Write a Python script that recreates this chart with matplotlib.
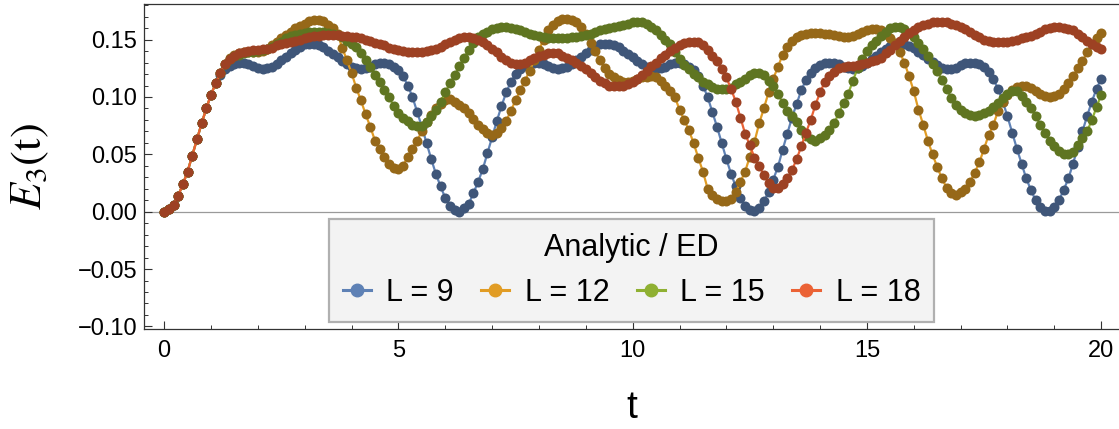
import numpy as np
import matplotlib
matplotlib.use("Agg")
import matplotlib.pyplot as plt
from matplotlib.lines import Line2D

plt.rcParams['font.family'] = ['Liberation Sans', 'DejaVu Sans']
plt.rcParams['mathtext.fontset'] = 'stix'

# time grid of the data points (step 0.1)
t = np.linspace(0, 20, 201)

labels = ["L = 9", "L = 12", "L = 15", "L = 18"]
legend_title = "Analytic / ED"

e_L9 = [
    0.000, 0.002, 0.006, 0.014, 0.024, 0.035, 0.049, 0.063, 0.077, 0.090,
    0.102, 0.112, 0.119, 0.124, 0.127, 0.129, 0.130, 0.130, 0.129, 0.127,
    0.125, 0.1245, 0.125, 0.126, 0.129, 0.132, 0.135, 0.138, 0.141, 0.144,
    0.146, 0.1465, 0.1465, 0.1455, 0.1435, 0.1405, 0.1375, 0.1345, 0.1315, 0.1285,
    0.126, 0.125, 0.1245, 0.125, 0.1265, 0.129, 0.130, 0.130, 0.129, 0.1265,
    0.1235, 0.118, 0.110, 0.100, 0.087, 0.074, 0.060, 0.046, 0.033, 0.022,
    0.012, 0.005, 0.0015, 0.000, 0.003, 0.007, 0.016, 0.026, 0.037, 0.051,
    0.065, 0.079, 0.092, 0.104, 0.113, 0.120, 0.124, 0.127, 0.129, 0.130,
    0.130, 0.129, 0.127, 0.125, 0.1245, 0.125, 0.126, 0.129, 0.132, 0.135,
    0.138, 0.141, 0.144, 0.146, 0.1465, 0.1465, 0.1455, 0.1435, 0.1405, 0.1375,
    0.1345, 0.1315, 0.1285, 0.126, 0.125, 0.1245, 0.125, 0.1265, 0.129, 0.130,
    0.130, 0.129, 0.1265, 0.1235, 0.118, 0.110, 0.100, 0.087, 0.074, 0.060,
    0.046, 0.033, 0.022, 0.012, 0.005, 0.0015, 0.001, 0.003, 0.009, 0.017,
    0.028, 0.039, 0.054, 0.068, 0.082, 0.094, 0.106, 0.115, 0.121, 0.125,
    0.128, 0.1295, 0.130, 0.1298, 0.1285, 0.1265, 0.125, 0.1245, 0.1253, 0.127,
    0.130, 0.133, 0.136, 0.139, 0.142, 0.1448, 0.1462, 0.1466, 0.1462, 0.1448,
    0.1425, 0.1395, 0.1365, 0.1335, 0.1305, 0.1278, 0.1256, 0.1247, 0.1247, 0.1256,
    0.1275, 0.1295, 0.130, 0.1298, 0.1285, 0.1258, 0.1215, 0.1155, 0.107, 0.096,
    0.083, 0.069, 0.055, 0.042, 0.029, 0.019, 0.010, 0.004, 0.001, 0.001,
    0.004, 0.010, 0.019, 0.029, 0.042, 0.056, 0.070, 0.0835, 0.096, 0.107,
    0.116,
]

e_L12 = [
    0.000, 0.002, 0.006, 0.014, 0.024, 0.035, 0.049, 0.063, 0.077, 0.090,
    0.102, 0.112, 0.121, 0.129, 0.134, 0.137, 0.138, 0.139, 0.139, 0.139,
    0.139, 0.140, 0.142, 0.145, 0.148, 0.151, 0.154, 0.157, 0.160, 0.162,
    0.164, 0.166, 0.167, 0.167, 0.166, 0.163, 0.160, 0.155, 0.143, 0.132,
    0.121, 0.108, 0.097, 0.085, 0.074, 0.062, 0.055, 0.048, 0.042, 0.038,
    0.037, 0.040, 0.048, 0.055, 0.062, 0.070, 0.078, 0.084, 0.090, 0.094,
    0.097, 0.098, 0.096, 0.093, 0.090, 0.086, 0.081, 0.076, 0.072, 0.069,
    0.067, 0.069, 0.073, 0.079, 0.088, 0.097, 0.106, 0.114, 0.123, 0.132,
    0.141, 0.150, 0.158, 0.163, 0.166, 0.168, 0.168, 0.167, 0.165, 0.161,
    0.155, 0.147, 0.140, 0.132, 0.125, 0.120, 0.117, 0.115, 0.113, 0.113,
    0.114, 0.116, 0.117, 0.117, 0.118, 0.117, 0.114, 0.110, 0.105, 0.100,
    0.089, 0.080, 0.071, 0.060, 0.047, 0.035, 0.020, 0.015, 0.011, 0.009,
    0.009, 0.011, 0.017, 0.026, 0.035, 0.048, 0.061, 0.077, 0.090, 0.104,
    0.116, 0.126, 0.137, 0.144, 0.149, 0.152, 0.154, 0.155, 0.156, 0.156,
    0.156, 0.155, 0.155, 0.154, 0.153, 0.152, 0.152, 0.153, 0.155, 0.157,
    0.158, 0.159, 0.159, 0.158, 0.155, 0.151, 0.147, 0.139, 0.130, 0.118,
    0.105, 0.089, 0.076, 0.062, 0.050, 0.039, 0.029, 0.021, 0.016, 0.015,
    0.017, 0.020, 0.026, 0.034, 0.043, 0.055, 0.067, 0.076, 0.088, 0.096,
    0.102, 0.106, 0.109, 0.110, 0.110, 0.108, 0.105, 0.103, 0.101, 0.100,
    0.101, 0.103, 0.107, 0.112, 0.118, 0.125, 0.131, 0.139, 0.146, 0.151,
    0.156,
]

e_L15 = [
    0.000, 0.002, 0.006, 0.014, 0.024, 0.035, 0.049, 0.063, 0.077, 0.090,
    0.102, 0.112, 0.121, 0.129, 0.133, 0.136, 0.137, 0.138, 0.139, 0.139,
    0.140, 0.141, 0.142, 0.144, 0.146, 0.148, 0.151, 0.153, 0.154, 0.155,
    0.156, 0.157, 0.157, 0.157, 0.157, 0.156, 0.155, 0.154, 0.152, 0.149,
    0.146, 0.1435, 0.138, 0.132, 0.126, 0.119, 0.113, 0.106, 0.100, 0.092,
    0.086, 0.082, 0.079, 0.076, 0.075, 0.075, 0.078, 0.083, 0.089, 0.096,
    0.104, 0.112, 0.119, 0.127, 0.134, 0.141, 0.147, 0.152, 0.155, 0.157,
    0.159, 0.160, 0.161, 0.161, 0.160, 0.159, 0.158, 0.157, 0.155, 0.154,
    0.153, 0.152, 0.151, 0.151, 0.151, 0.151, 0.151, 0.152, 0.152, 0.153,
    0.154, 0.155, 0.1565, 0.158, 0.159, 0.160, 0.161, 0.162, 0.163, 0.164,
    0.165, 0.1655, 0.165, 0.164, 0.161, 0.158, 0.154, 0.150, 0.146, 0.139,
    0.133, 0.128, 0.124, 0.120, 0.117, 0.113, 0.111, 0.109, 0.107, 0.107,
    0.107, 0.108, 0.111, 0.113, 0.116, 0.119, 0.121, 0.121, 0.119, 0.114,
    0.110, 0.103, 0.095, 0.088, 0.0835, 0.078, 0.071, 0.066, 0.063, 0.062,
    0.064, 0.067, 0.071, 0.077, 0.086, 0.095, 0.103, 0.114, 0.125, 0.133,
    0.140, 0.145, 0.149, 0.153, 0.157, 0.160, 0.161, 0.161, 0.159, 0.156,
    0.152, 0.147, 0.142, 0.136, 0.129, 0.123, 0.115, 0.107, 0.099, 0.093,
    0.089, 0.086, 0.084, 0.0835, 0.084, 0.086, 0.088, 0.091, 0.095, 0.099,
    0.103, 0.105, 0.105, 0.101, 0.096, 0.090, 0.083, 0.076, 0.069, 0.062,
    0.057, 0.053, 0.050, 0.050, 0.052, 0.058, 0.064, 0.070, 0.080, 0.091,
    0.102,
]

e_L18 = [
    0.000, 0.002, 0.006, 0.014, 0.024, 0.035, 0.049, 0.063, 0.077, 0.090,
    0.102, 0.112, 0.121, 0.129, 0.133, 0.136, 0.138, 0.139, 0.140, 0.141,
    0.141, 0.142, 0.142, 0.143, 0.145, 0.146, 0.147, 0.148, 0.149, 0.150,
    0.151, 0.152, 0.153, 0.153, 0.154, 0.154, 0.154, 0.154, 0.153, 0.153,
    0.152, 0.152, 0.151, 0.150, 0.149, 0.147, 0.146, 0.145, 0.143, 0.142,
    0.141, 0.140, 0.139, 0.139, 0.139, 0.139, 0.140, 0.141, 0.142, 0.144,
    0.146, 0.148, 0.150, 0.151, 0.152, 0.152, 0.151, 0.150, 0.148, 0.145,
    0.142, 0.139, 0.135, 0.132, 0.130, 0.129, 0.129, 0.130, 0.132, 0.134,
    0.136, 0.137, 0.138, 0.138, 0.138, 0.136, 0.134, 0.132, 0.130, 0.127,
    0.124, 0.121, 0.117, 0.114, 0.112, 0.110, 0.110, 0.110, 0.110, 0.111,
    0.113, 0.116, 0.119, 0.123, 0.127, 0.130, 0.134, 0.137, 0.140, 0.143,
    0.145, 0.147, 0.148, 0.148, 0.148, 0.145, 0.141, 0.136, 0.131, 0.124,
    0.117, 0.107, 0.096, 0.082, 0.068, 0.058, 0.047, 0.040, 0.032, 0.025,
    0.021, 0.0205, 0.024, 0.029, 0.036, 0.046, 0.057, 0.069, 0.080, 0.093,
    0.104, 0.113, 0.118, 0.122, 0.125, 0.126, 0.127, 0.127, 0.128, 0.129,
    0.130, 0.131, 0.132, 0.134, 0.138, 0.141, 0.145, 0.149, 0.152, 0.156,
    0.158, 0.161, 0.163, 0.164, 0.165, 0.1655, 0.1655, 0.165, 0.164, 0.163,
    0.161, 0.159, 0.157, 0.154, 0.152, 0.150, 0.149, 0.148, 0.148, 0.148,
    0.148, 0.149, 0.150, 0.151, 0.152, 0.153, 0.155, 0.157, 0.159, 0.160,
    0.161, 0.161, 0.160, 0.159, 0.158, 0.155, 0.152, 0.149, 0.146, 0.144,
    0.142,
]

series = [e_L9, e_L12, e_L15, e_L18]
line_colors = ['#5E81B5', '#E19C24', '#8FB032', '#EB6235']
dot_colors = ['#3F5679', '#966818', '#5F7521', '#9D4123']

fig = plt.figure(figsize=(11.19, 4.29), dpi=100)
ax = fig.add_axes([144 / 1119, 1 - 329.3 / 429, 1 - 144 / 1119, 325 / 429])

ax.axhline(0, color='#9a9a9a', lw=0.9, zorder=1)

for vals, lc, dc in zip(series, line_colors, dot_colors):
    ax.plot(t, vals, '-', color=lc, lw=1.6, marker='o', ms=7.2,
            mfc=dc, mec=dc, mew=0, zorder=2)

ax.set_xlim(-0.43, 20.38)
ax.set_ylim(-0.1025, 0.1808)
ax.set_xticks([0, 5, 10, 15, 20])
ax.set_xticks(np.arange(0, 21, 1), minor=True)
ax.set_yticks([-0.10, -0.05, 0.00, 0.05, 0.10, 0.15])
ax.set_yticks(np.arange(-0.10, 0.181, 0.01), minor=True)
ax.set_yticklabels(['\u22120.10', '\u22120.05', '0.00', '0.05', '0.10', '0.15'])

ax.tick_params(which='both', direction='in', top=False, right=False,
               labelsize=17, color='#333333')
ax.tick_params(which='major', length=5.5, width=0.8)
ax.tick_params(which='minor', length=3, width=0.7)
ax.tick_params(axis='x', pad=8)
ax.tick_params(axis='y', pad=5)
ax.spines['right'].set_visible(False)
for s in ['left', 'bottom', 'top']:
    ax.spines[s].set_color('#333333')
    ax.spines[s].set_linewidth(0.9)

ax.set_xlabel('t', fontsize=28, va='center')
ax.xaxis.set_label_coords(0.5005, -0.242)
ax.set_ylabel(r'$E_3(\mathrm{t})$', fontsize=32, va='center')
ax.yaxis.set_label_coords(-0.117, 0.5)

handles = [Line2D([], [], color=c, lw=2.2, marker='o', ms=9, mfc=c, mec=c)
           for c in line_colors]
leg = ax.legend(handles, labels, title=legend_title, ncol=4, loc='center',
                bbox_to_anchor=(0.5, 0.181), fontsize=22, title_fontsize=22,
                handlelength=0.92, handletextpad=0.5, columnspacing=0.9,
                frameon=True, fancybox=False, borderpad=0.45,
                framealpha=1)
leg.get_frame().set_facecolor('#f3f3f3')
leg.get_frame().set_edgecolor('#b0b0b0')
leg.get_frame().set_linewidth(1.6)
leg.set_zorder(5)

fig.savefig('out.png', dpi=100)
